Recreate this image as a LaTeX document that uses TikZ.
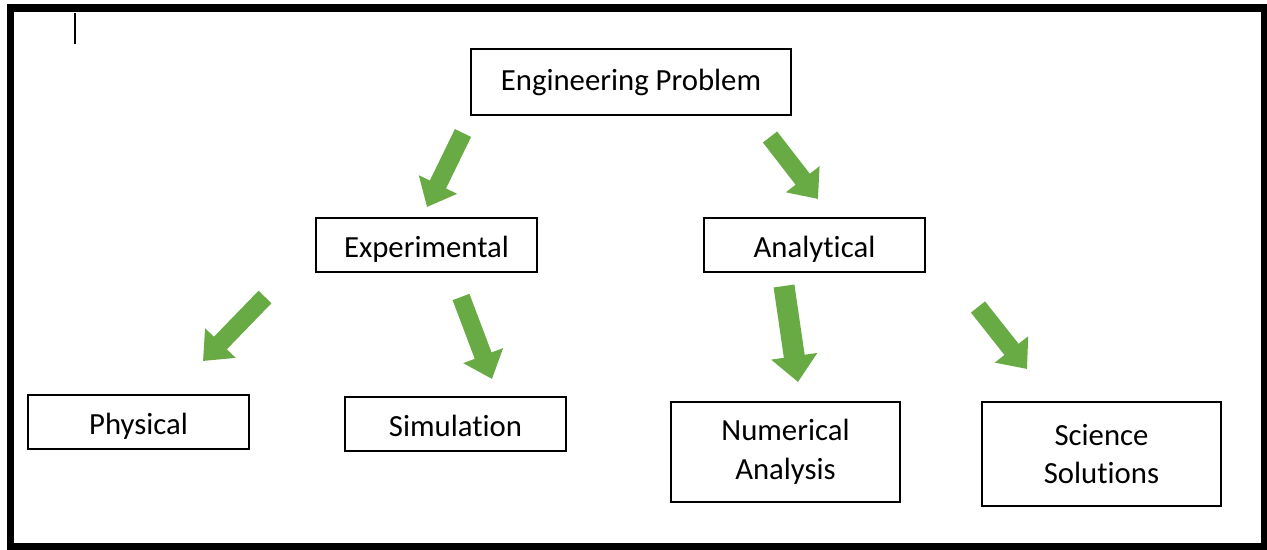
\documentclass[tikz,border=0pt]{standalone}
\usepackage{fontspec}
\setmainfont{Carlito}[Ligatures=NoCommon]
\usetikzlibrary{arrows.meta}
\definecolor{offgreen}{HTML}{68AB44}
\tikzset{
	box/.style={draw=black, line width=1pt, inner sep=0pt, align=center, font=\fontsize{17.5}{22}\selectfont},
	smallbox/.style={box, minimum width=4.42cm, minimum height=1.08cm, text height=16pt, text depth=2pt},
	garrow/.style={draw=offgreen, line width=0.36cm, -{Triangle[width=0.82cm, length=0.5cm]}},
}
\begin{document}
\begin{tikzpicture}[x=0.02cm, y=-0.02cm, line join=miter]
	\useasboundingbox (0,0) rectangle (1267,550);
	\draw[line width=4pt] (10.5,8) rectangle (1264.5,546.5);
	\draw[line width=0.9pt] (75,13)--(75,44);
	
	\node[box, minimum width=6.4cm, minimum height=1.32cm] (prob) at (631,82) {Engineering Problem};
	\node[smallbox] (exper) at (426.5,245) {Experimental};
	\node[smallbox] (anal) at (814.5,245) {Analytical};
	\node[smallbox] (phys) at (138.5,422) {Physical};
	\node[smallbox] (simu) at (455.5,424) {Simulation};
	\node[box, minimum width=4.58cm, minimum height=2cm] (numer) at (785.5,452) {Numerical\\Analysis};
	\node[box, minimum width=4.78cm, minimum height=2.08cm] (scien) at (1101.5,454) {Science\\Solutions};
	
	\path 
	(463,133) coordinate (t1) (427,207) coordinate (h1)
	(770,137) coordinate (t2) (818,199) coordinate (h2)
	(265,297) coordinate (t3) (203,361) coordinate (h3)
	(461,297) coordinate (t4) (492,379) coordinate (h4)
	(978,307) coordinate (t6) (1027,369) coordinate (h6)
	;
	\foreach \t/\h in {t1/h1,t2/h2,t3/h3,t4/h4,t6/h6}
	\draw[garrow] (\t)--(\h);
	\draw[garrow, line width=0.42cm, -{Triangle[width=0.9cm, length=0.52cm]}] (784,286) coordinate (t5)--(798,382) coordinate (h5);
\end{tikzpicture}
\end{document}
